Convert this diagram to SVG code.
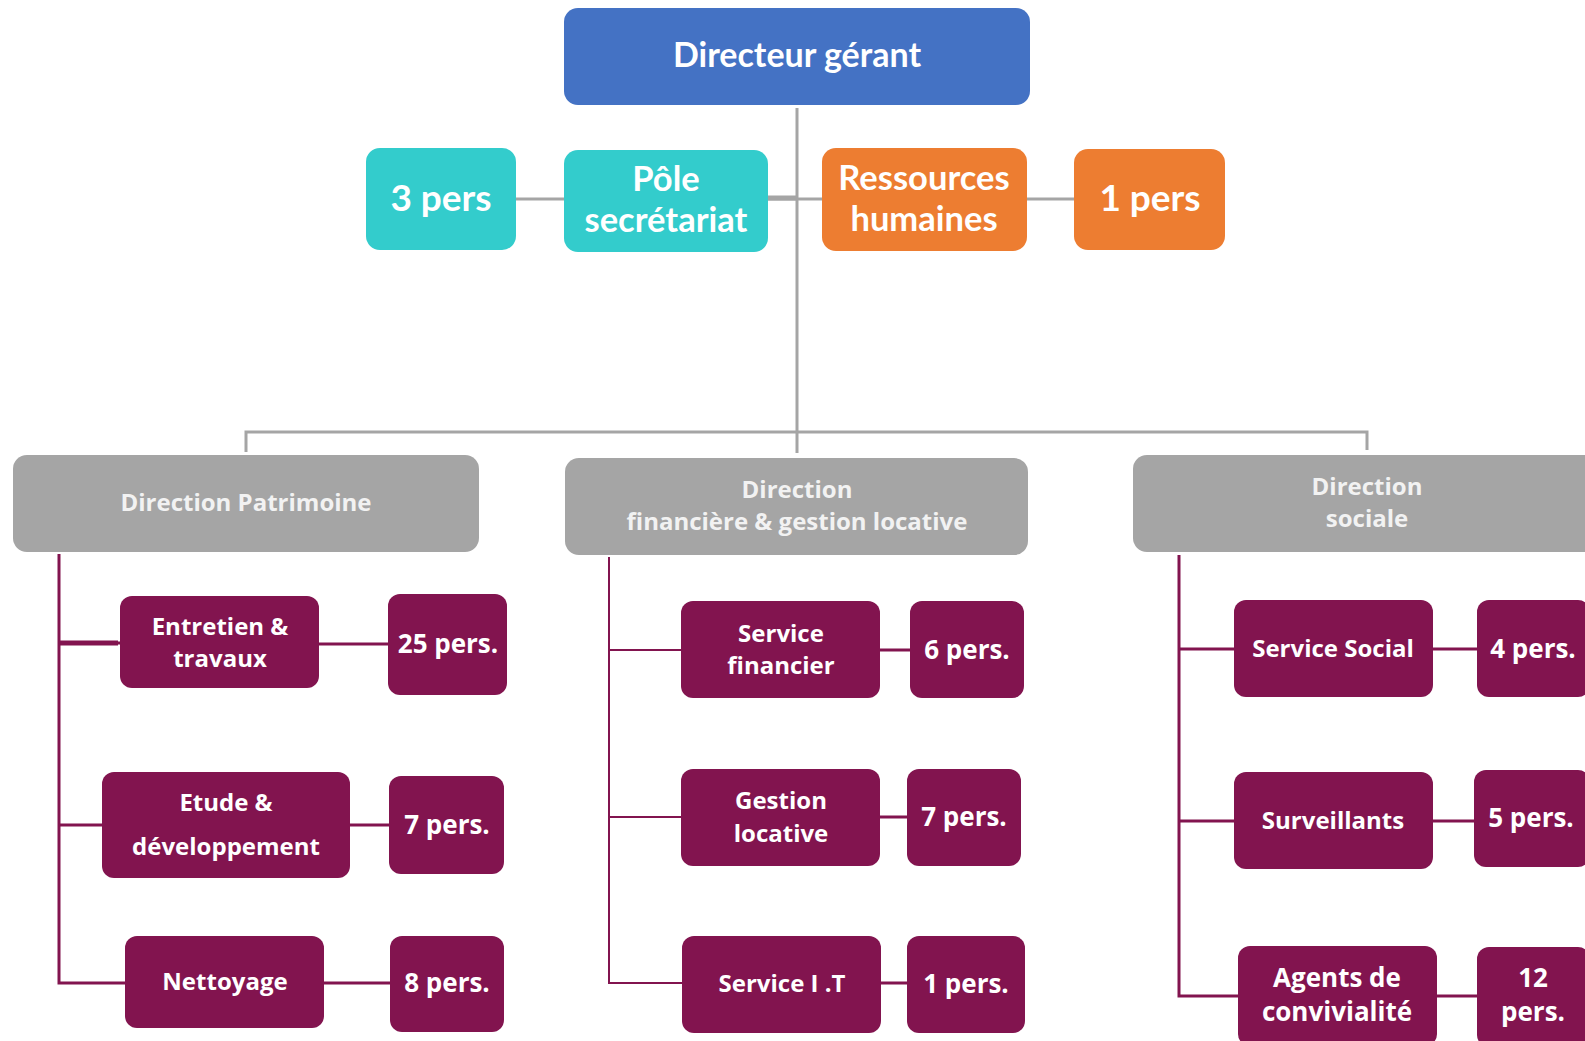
<svg xmlns="http://www.w3.org/2000/svg" width="1585" height="1041" viewBox="0 0 1585 1041">
<style>
.top{font-family:Lato,"Liberation Sans",sans-serif;font-weight:bold;fill:#fff;text-anchor:middle}
.low{font-family:"Open Sans","Liberation Sans",sans-serif;font-weight:bold;fill:#fff;text-anchor:middle}
.dir{font-family:"Open Sans","Liberation Sans",sans-serif;font-weight:bold;fill:#F2F2F2;text-anchor:middle;font-size:24px}
.blue{fill:#4472C4}
.teal{fill:#33CCCC}
.orange{fill:#ED7D31}
.gray{fill:#A5A5A5}
.purple{fill:#82144F}
.gl{stroke:#A5A5A5;stroke-width:3;fill:none}
.pl{stroke:#82144F;stroke-width:3;fill:none}
.pt{stroke:#82144F;stroke-width:2;fill:none}
</style>
<rect width="1585" height="1041" fill="#fff"/>
<g id="connectors">
<path class="gl" d="M797 108V432M246 452V432H1367V450M797 432V453"/>
<path class="gl" d="M516 199H564M768 199H797M822 199H797M1027 199H1074"/>
<path class="gl" d="M768 198H797" style="stroke-width:5"/>
<path class="pl" d="M59 554V983H125M59 643H120M59 825H102M319 644H388M350 825H389M324 983H390"/>
<path class="pl" d="M59 643H118" style="stroke-width:5"/>
<path class="pt" d="M609 557V983H682M609 650H681M609 817H681"/>
<path class="pl" d="M880 650H910M880 817H907M881 983H907"/>
<path class="pl" d="M1179 555V996H1238M1179 649H1234M1179 821H1234M1433 649H1477M1433 821H1474M1437 996H1477"/>
</g>
<g id="directeur"><rect class="blue" x="564" y="8" width="466" height="97" rx="14"/><text class="top" x="797" y="67" font-size="34">Directeur gérant</text></g>
<g id="secr-pers"><rect class="teal" x="366" y="148" width="150" height="102" rx="14"/><text class="top" x="441" y="211" font-size="37">3 pers</text></g>
<g id="secretariat"><rect class="teal" x="564" y="150" width="204" height="102" rx="14"/><text class="top" x="666" y="191" font-size="34.5">Pôle</text><text class="top" x="666" y="232" font-size="34.5">secrétariat</text></g>
<g id="rh"><rect class="orange" x="822" y="148" width="205" height="103" rx="14"/><text class="top" x="924" y="190" font-size="34.5">Ressources</text><text class="top" x="924" y="231" font-size="34.5">humaines</text></g>
<g id="rh-pers"><rect class="orange" x="1074" y="149" width="151" height="101" rx="14"/><text class="top" x="1150" y="211" font-size="37">1 pers</text></g>
<g id="dir-patrimoine"><rect class="gray" x="13" y="455" width="466" height="97" rx="14"/><text class="dir" x="246" y="511">Direction Patrimoine</text></g>
<g id="dir-financiere"><rect class="gray" x="565" y="458" width="463" height="97" rx="14"/><text class="dir" x="797" y="498">Direction</text><text class="dir" x="797" y="530">financière &amp; gestion locative</text></g>
<g id="dir-sociale"><rect class="gray" x="1133" y="455" width="470" height="97" rx="14"/><text class="dir" x="1367" y="495">Direction</text><text class="dir" x="1367" y="527">sociale</text></g>
<g id="entretien"><rect class="purple" x="120" y="596" width="199" height="92" rx="12"/><text class="low" x="220" y="635" font-size="24">Entretien &amp;</text><text class="low" x="220" y="667" font-size="24">travaux</text></g>
<g id="entretien-pers"><rect class="purple" x="388" y="594" width="119" height="101" rx="12"/><text class="low" x="448" y="653" font-size="26">25 pers.</text></g>
<g id="etude"><rect class="purple" x="102" y="772" width="248" height="106" rx="12"/><text class="low" x="226" y="811" font-size="24">Etude &amp;</text><text class="low" x="226" y="855" font-size="24">développement</text></g>
<g id="etude-pers"><rect class="purple" x="389" y="776" width="115" height="98" rx="12"/><text class="low" x="447" y="834" font-size="26">7 pers.</text></g>
<g id="nettoyage"><rect class="purple" x="125" y="936" width="199" height="92" rx="12"/><text class="low" x="225" y="990" font-size="24">Nettoyage</text></g>
<g id="nettoyage-pers"><rect class="purple" x="390" y="936" width="114" height="96" rx="12"/><text class="low" x="447" y="992" font-size="26">8 pers.</text></g>
<g id="service-financier"><rect class="purple" x="681" y="601" width="199" height="97" rx="12"/><text class="low" x="781" y="642" font-size="24">Service</text><text class="low" x="781" y="674" font-size="24">financier</text></g>
<g id="financier-pers"><rect class="purple" x="910" y="601" width="114" height="97" rx="12"/><text class="low" x="967" y="659" font-size="26">6 pers.</text></g>
<g id="gestion-locative"><rect class="purple" x="681" y="769" width="199" height="97" rx="12"/><text class="low" x="781" y="809" font-size="24">Gestion</text><text class="low" x="781" y="842" font-size="24">locative</text></g>
<g id="gestion-pers"><rect class="purple" x="907" y="769" width="114" height="97" rx="12"/><text class="low" x="964" y="826" font-size="26">7 pers.</text></g>
<g id="service-it"><rect class="purple" x="682" y="936" width="199" height="97" rx="12"/><text class="low" x="782" y="992" font-size="24">Service I .T</text></g>
<g id="it-pers"><rect class="purple" x="907" y="936" width="118" height="97" rx="12"/><text class="low" x="966" y="993" font-size="26">1 pers.</text></g>
<g id="service-social"><rect class="purple" x="1234" y="600" width="199" height="97" rx="12"/><text class="low" x="1333" y="657" font-size="24">Service Social</text></g>
<g id="social-pers"><rect class="purple" x="1477" y="600" width="113" height="97" rx="12"/><text class="low" x="1533" y="658" font-size="26">4 pers.</text></g>
<g id="surveillants"><rect class="purple" x="1234" y="772" width="199" height="97" rx="12"/><text class="low" x="1333" y="829" font-size="24">Surveillants</text></g>
<g id="surveillants-pers"><rect class="purple" x="1474" y="770" width="116" height="97" rx="12"/><text class="low" x="1531" y="827" font-size="26">5 pers.</text></g>
<g id="agents"><rect class="purple" x="1238" y="946" width="199" height="100" rx="12"/><text class="low" x="1337" y="987" font-size="26">Agents de</text><text class="low" x="1337" y="1021" font-size="26">convivialité</text></g>
<g id="agents-pers"><rect class="purple" x="1477" y="947" width="113" height="100" rx="12"/><text class="low" x="1533" y="987" font-size="26">12</text><text class="low" x="1533" y="1021" font-size="26">pers.</text></g>
</svg>
